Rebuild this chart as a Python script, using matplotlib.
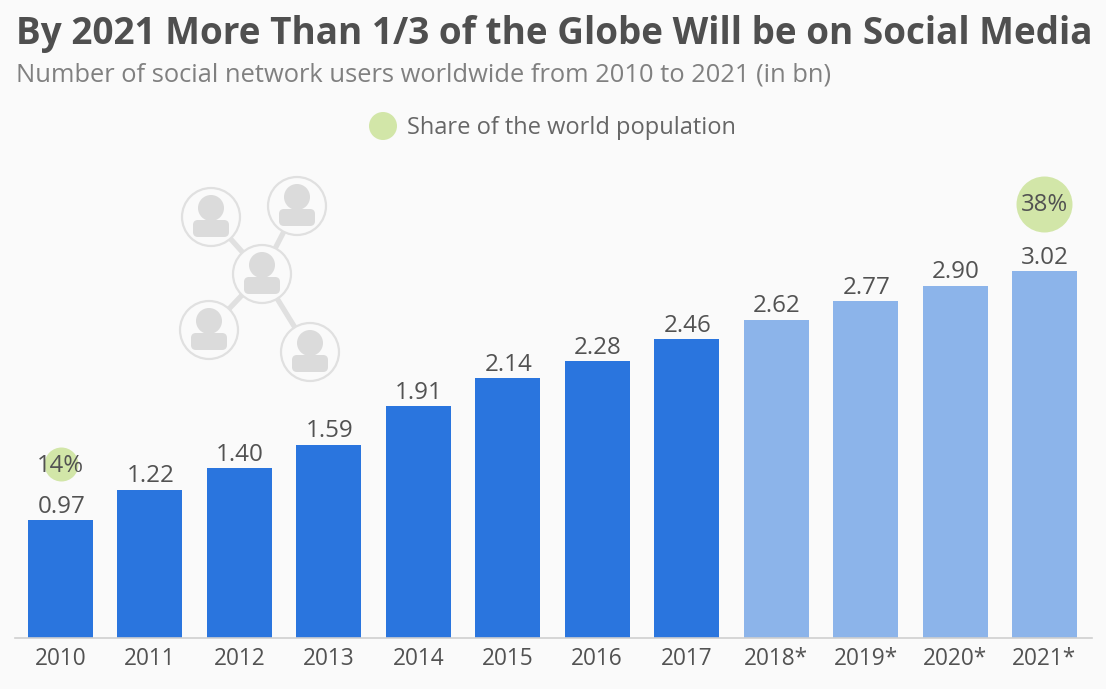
import matplotlib
matplotlib.use('Agg')
import matplotlib.pyplot as plt
import numpy as np
from matplotlib.patches import Circle, FancyBboxPatch

plt.rcParams['font.family'] = ['Open Sans', 'DejaVu Sans']

W, H = 1106, 689
BG = '#fafafa'
DARK = '#2a75de'
LIGHT = '#8cb4ea'
GREEN = '#d2e6a8'
TXT = '#525252'

years = ['2010', '2011', '2012', '2013', '2014', '2015', '2016', '2017',
         '2018*', '2019*', '2020*', '2021*']
users = [0.97, 1.22, 1.40, 1.59, 1.91, 2.14, 2.28, 2.46, 2.62, 2.77, 2.90, 3.02]
n_actual = 8  # later years are forecasts
share_idx = [0, 11]
share = [14, 38]

title = 'By 2021 More Than 1/3 of the Globe Will be on Social Media'
subtitle = 'Number of social network users worldwide from 2010 to 2021 (in bn)'
legend_label = 'Share of the world population'


def draw_person(ov, cx, cy, r=30):
    ov.add_patch(Circle((cx, cy), r - 1, fc=BG, ec='#e0e0e0', lw=1.6, zorder=2))
    ov.add_patch(Circle((cx, cy - 9), 13, fc='#dbdbdb', ec='none', zorder=3))
    ov.add_patch(FancyBboxPatch((cx - 15, cy + 6), 30, 11,
                                boxstyle='round,pad=3,rounding_size=5',
                                fc='#dbdbdb', ec='none', zorder=3))


def main():
    fig = plt.figure(figsize=(W / 100, H / 100), dpi=100, facecolor=BG)

    # overlay in pixel coords for the decoration and legend
    ov = fig.add_axes([0, 0, 1, 1], zorder=0)
    ov.set_xlim(0, W)
    ov.set_ylim(H, 0)
    ov.axis('off')

    hub = (262, 274)
    spokes = [(211, 217), (297, 206), (209, 330), (310, 352)]
    for sx, sy in spokes:
        ov.plot([hub[0], sx], [hub[1], sy], color='#e0e0e0', lw=3.8, zorder=1,
                solid_capstyle='butt')
    draw_person(ov, *hub)
    for sx, sy in spokes:
        draw_person(ov, sx, sy)

    ov.add_patch(Circle((383, 126), 14, fc=GREEN, ec='none'))
    ov.text(407, 128, legend_label, fontsize=17.05, color='#666666', va='center', ha='left')
    ov.text(16, 34, title, fontsize=26.6, fontweight='bold', color='#4f4f4f', va='center', ha='left')
    ov.text(16, 75, subtitle, fontsize=18.37, color='#808080', va='center', ha='left')

    # main axes: baseline at y=638px, 121.5 px per bn, 89.45 px per category
    left, right, top, base = 15, 1092, 170, 638
    ax = fig.add_axes([left / W, 1 - base / H, (right - left) / W, (base - top) / H], zorder=1)
    ax.patch.set_alpha(0)
    ax.set_xlim((left - 60.5) / 89.45, (right - 60.5) / 89.45)
    ax.set_ylim(0, (base - top) / 121.5)

    x = np.arange(len(users))
    colors = [DARK if i < n_actual else LIGHT for i in x]
    ax.bar(x, users, width=65 / 89.45, color=colors, zorder=2)

    for i, v in zip(x, users):
        ax.annotate(f'{v:.2f}', (i, v), xytext=(0.5, 1), textcoords='offset points',
                    ha='center', va='bottom', fontsize=17.4, color=TXT, zorder=4)

    # bubble area follows the share, placed above the value label
    for idx, s in zip(share_idx, share):
        r_px = 4.54 * np.sqrt(s)
        size = (2 * r_px * 0.72) ** 2
        y = users[idx] + (39 + r_px) / 121.5
        ax.scatter([idx], [y], s=size, color=GREEN, linewidths=0, zorder=3)
        ax.annotate(f'{s}%', (idx, y), xytext=(0, -1), textcoords='offset points',
                    ha='center', va='center', fontsize=17.2, color=TXT, zorder=5)

    for side in ['top', 'left', 'right']:
        ax.spines[side].set_visible(False)
    ax.spines['bottom'].set_color('#cfcfcf')
    ax.spines['bottom'].set_linewidth(1.2)
    ax.set_yticks([])
    ax.set_xticks(x)
    ax.set_xticklabels(years, fontsize=16.3, color=TXT)
    ax.tick_params(axis='x', length=0, pad=6.5)

    fig.savefig('out.png', dpi=100, facecolor=BG)


if __name__ == '__main__':
    main()
